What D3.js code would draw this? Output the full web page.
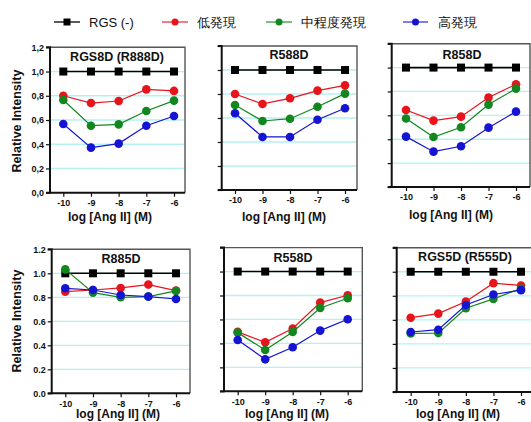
<!DOCTYPE html>
<html><head><meta charset="utf-8">
<script src="https://cdn.jsdelivr.net/npm/d3@7/dist/d3.min.js"></script>
<style>
html,body{margin:0;padding:0;background:#fff;}
svg{display:block;}
text{font-family:"Liberation Sans",Arial,sans-serif;}
</style></head>
<body>
<svg id="chart" width="531" height="422"></svg>
<script>
// ---- data ----
const xValues = [-10, -9, -8, -7, -6];
const xTickLabels = ["-10", "-9", "-8", "-7", "-6"];
const seriesNames = ["RGS (-)", "低発現", "中程度発現", "高発現"];
const panelTitles = ["RGS8D (R888D)", "R588D", "R858D", "R885D", "R558D", "RGS5D (R555D)"];
const yTickValues = [0, 0.2, 0.4, 0.6, 0.8, 1.0, 1.2];
const yTickLabelsTop = ["0,0", "0,2", "0,4", "0,6", "0,8", "1,0", "1,2"];
const yTickLabelsBottom = ["0.0", "0.2", "0.4", "0.6", "0.8", "1.0", "1.2"];

const rgsNone = [1.0, 1.0, 1.0, 1.0, 1.0];
// per panel: low, medium, high expression
const lowExpr = [
  [0.80, 0.74, 0.757, 0.853, 0.84],
  [0.80, 0.717, 0.764, 0.828, 0.872],
  [0.645, 0.556, 0.589, 0.749, 0.86],
  [0.847, 0.861, 0.878, 0.906, 0.856],
  [0.496, 0.409, 0.524, 0.741, 0.802],
  [0.618, 0.652, 0.752, 0.905, 0.886]
];
const midExpr = [
  [0.765, 0.553, 0.564, 0.674, 0.76],
  [0.708, 0.575, 0.594, 0.694, 0.803],
  [0.573, 0.419, 0.50, 0.69, 0.824],
  [1.033, 0.839, 0.80, 0.806, 0.853],
  [0.49, 0.345, 0.496, 0.696, 0.777],
  [0.487, 0.49, 0.696, 0.774, 0.861]
];
const highExpr = [
  [0.567, 0.372, 0.405, 0.553, 0.633],
  [0.639, 0.442, 0.442, 0.586, 0.681],
  [0.422, 0.296, 0.341, 0.497, 0.631],
  [0.875, 0.861, 0.819, 0.806, 0.786],
  [0.429, 0.267, 0.368, 0.507, 0.602],
  [0.499, 0.518, 0.724, 0.811, 0.847]
];

// ---- layout (positions/styles) ----
const colors = ["#000000", "#e8141b", "#12871f", "#1414d2"];
const panels = [
  {L:50,   R:185,   T:47.3,  B:192.7, x10:63.3,  x6:174,   labels:yTickLabelsTop,    titleX:117, titleY:57,  xTitleX:110, xTitleY:217},
  {L:221.7,R:357,   T:46,    B:190,   x10:235,   x6:345,   labels:null,              titleX:289, titleY:55,  xTitleX:284, xTitleY:217},
  {L:391.7,R:530,   T:43.7,  B:187,   x10:406,   x6:516,   labels:null,              titleX:462, titleY:55,  xTitleX:451, xTitleY:215},
  {L:51.7, R:190,   T:249.3, B:393.3, x10:65.3,  x6:176,   labels:yTickLabelsBottom, titleX:121, titleY:259, xTitleX:118, xTitleY:414},
  {L:224,  R:362.3, T:247.6, B:391.3, x10:237.7, x6:347.7, labels:null,              titleX:293, titleY:258, xTitleX:287, xTitleY:414},
  {L:396.7,R:545,   T:247.7, B:392,   x10:410.7, x6:521,   labels:null,              titleX:465, titleY:257, xTitleX:458, xTitleY:414}
];

const svg = d3.select("#chart");
const gridColor = "#b4f2f2";
const fontFam = "'Liberation Sans', Arial, sans-serif";

panels.forEach((p, i) => {
  const x = d3.scaleLinear().domain([-10, -6]).range([p.x10, p.x6]);
  const y = d3.scaleLinear().domain([0, 1.2]).range([p.B, p.T]);
  const g = svg.append("g");

  // grid lines
  g.selectAll("line.grid").data(yTickValues.filter(v => v > 0 && v < 1.2))
    .enter().append("line")
    .attr("x1", p.L).attr("x2", p.R)
    .attr("y1", d => y(d)).attr("y2", d => y(d))
    .attr("stroke", gridColor).attr("stroke-width", 1.3);

  // frame top/right
  g.append("path")
    .attr("d", `M${p.L},${y(1.2)}H${p.R}V${p.B}`)
    .attr("fill", "none").attr("stroke", "#555").attr("stroke-width", 1.4);

  // y axis
  const yAxis = d3.axisLeft(y).tickValues(yTickValues).tickSize(4).tickPadding(2)
    .tickFormat((d, k) => p.labels ? p.labels[k] : "");
  const ya = g.append("g").attr("transform", `translate(${p.L},0)`).call(yAxis);
  ya.select(".domain").attr("stroke", "#111").attr("stroke-width", 2).attr("d", `M-4,${p.B}H0V${y(1.2)}H-4`);
  ya.selectAll(".tick line").attr("stroke", "#111").attr("stroke-width", 1.2);
  ya.selectAll(".tick text").attr("font-size", 9).attr("font-weight", "bold").attr("fill", "#111")
    .attr("font-family", fontFam);

  // x axis
  const xAxis = d3.axisBottom(x).tickValues(xValues).tickSize(4).tickPadding(3)
    .tickFormat((d, k) => xTickLabels[k]);
  const xa = g.append("g").attr("transform", `translate(0,${p.B})`).call(xAxis);
  xa.select(".domain").attr("stroke", "#111").attr("stroke-width", 2).attr("d", `M${p.L},0H${p.R}`);
  xa.selectAll(".tick line").attr("stroke", "#111").attr("stroke-width", 1.2);
  xa.selectAll(".tick text").attr("font-size", 9).attr("font-weight", "bold").attr("fill", "#111")
    .attr("font-family", fontFam);

  // panel title
  g.append("text").attr("x", p.titleX)
    .attr("y", p.titleY).attr("dy", "0.35em")
    .attr("text-anchor", "middle").attr("font-size", 12.5).attr("font-weight", "bold")
    .attr("fill", "#111").text(panelTitles[i]);

  // x title
  g.append("text").attr("x", p.xTitleX).attr("y", p.xTitleY).attr("dy", "0.35em")
    .attr("text-anchor", "middle").attr("font-size", 12).attr("font-weight", "bold")
    .attr("fill", "#111").text("log [Ang II] (M)");

  // series
  const seriesData = [rgsNone, lowExpr[i], midExpr[i], highExpr[i]];
  const line = d3.line().x((d, k) => x(xValues[k])).y(d => y(d));
  seriesData.forEach((vals, s) => {
    g.append("path").datum(vals).attr("d", line)
      .attr("fill", "none").attr("stroke", colors[s])
      .attr("stroke-width", s === 0 ? 1.6 : 1.2);
    if (s === 0) {
      g.selectAll(null).data(vals).enter().append("rect")
        .attr("x", (d, k) => x(xValues[k]) - 4).attr("y", d => y(d) - 4)
        .attr("width", 8).attr("height", 8).attr("fill", colors[0]);
    } else {
      g.selectAll(null).data(vals).enter().append("circle")
        .attr("cx", (d, k) => x(xValues[k])).attr("cy", d => y(d))
        .attr("r", 4.3).attr("fill", colors[s]);
    }
  });
});

// y titles
[121, 321].forEach(cy => {
  svg.append("text").attr("transform", `translate(17,${cy}) rotate(-90)`)
    .attr("text-anchor", "middle").attr("dy", "0.35em")
    .attr("font-size", 12.5).attr("font-weight", "bold").attr("fill", "#111")
    .text("Relative Intensity");
});

// legend
const legendItems = [
  {x1:54, x2:80, tx:89},
  {x1:162, x2:188, tx:197},
  {x1:266, x2:292, tx:301},
  {x1:403, x2:428, tx:438}
];
const ly = 22;
legendItems.forEach((it, s) => {
  const lg = svg.append("g");
  lg.append("line").attr("x1", it.x1).attr("x2", it.x2).attr("y1", ly).attr("y2", ly)
    .attr("stroke", colors[s]).attr("stroke-width", s === 0 ? 1.3 : 1.1);
  const cx = (it.x1 + it.x2) / 2;
  if (s === 0) {
    lg.append("rect").attr("x", cx - 3.5).attr("y", ly - 3.5).attr("width", 7).attr("height", 7).attr("fill", colors[0]);
  } else {
    lg.append("circle").attr("cx", cx).attr("cy", ly).attr("r", 3.5).attr("fill", colors[s]);
  }
  lg.append("text").attr("x", it.tx).attr("y", ly).attr("dy", "0.35em")
    .attr("font-size", 13).attr("fill", "#111")
    .attr("font-family", s === 0 ? fontFam : "'Noto Sans CJK JP', sans-serif")
    .text(seriesNames[s]);
});
</script>
</body></html>
